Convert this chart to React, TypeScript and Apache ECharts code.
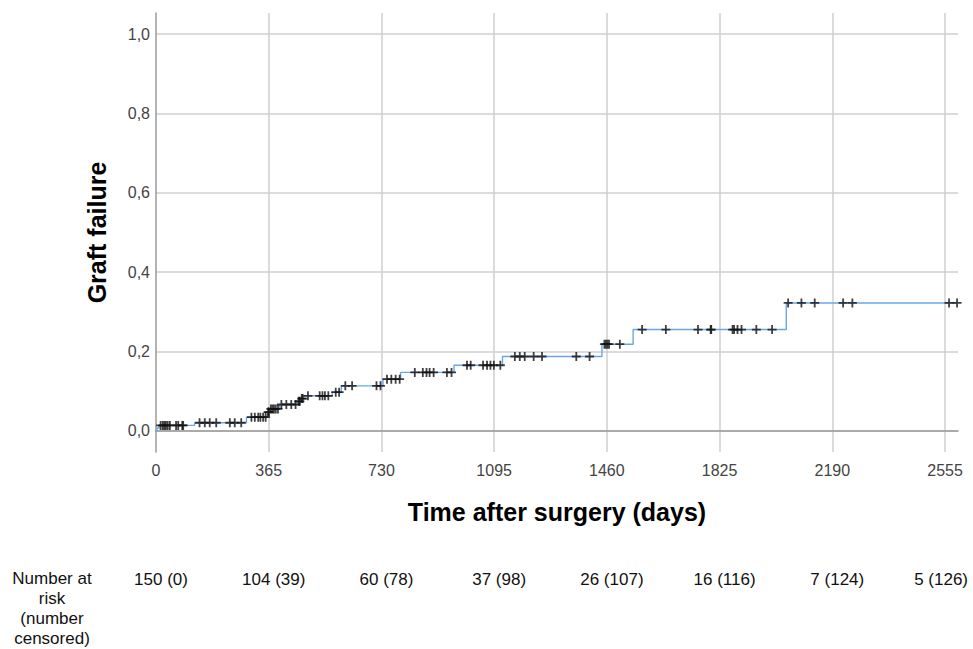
import React, { useEffect, useRef } from "react";
import * as echarts from "echarts";

// Kaplan-Meier steps: day at which failure level starts, and the cumulative failure
const stepDays = [0, 3, 10, 125, 293, 361, 368, 400, 460, 470, 478, 571, 600, 735, 792, 965, 1122, 1444, 1545, 2041, 2594];
const stepFailure = [0, 0.0067, 0.0133, 0.02, 0.034, 0.047, 0.055, 0.066, 0.074, 0.081, 0.088, 0.097, 0.113, 0.13, 0.147, 0.165, 0.187, 0.218, 0.255, 0.322, 0.322];

// Censored observations (days)
const censorDays = [
  15, 22, 27, 32, 38, 45, 65, 72, 85, 88,
  141, 158, 174, 195, 239, 255, 276,
  309, 320, 331, 338, 347, 355,
  363, 366, 372, 377, 382, 388, 395,
  406, 422, 438, 452,
  462, 466, 472, 475,
  492, 530, 539, 547, 558,
  582, 593,
  613, 635, 714, 727,
  748, 762, 776, 789,
  838, 864, 876, 886, 899, 942, 957,
  1007, 1019, 1059, 1072, 1083, 1094, 1115,
  1162, 1178, 1194, 1223, 1250, 1361, 1404,
  1452, 1457, 1462, 1467, 1502,
  1574, 1651, 1755, 1796, 1798, 1867, 1872, 1883, 1896, 1944, 1995,
  2047, 2090, 2133, 2225, 2255, 2568, 2594,
];

const xTickDays = [0, 365, 730, 1095, 1460, 1825, 2190, 2555];
const yTickValues = [0, 0.2, 0.4, 0.6, 0.8, 1.0];
const riskLabels = ["150 (0)", "104 (39)", "60 (78)", "37 (98)", "26 (107)", "16 (116)", "7 (124)", "5 (126)"];
const riskTitle = "Number at\nrisk\n(number\ncensored)";

const xTitle = "Time after surgery (days)";
const yTitle = "Graft failure";

const FONT = '"Liberation Sans", Arial, sans-serif';

function failureAt(d: number): number {
  let v = 0;
  for (let i = 0; i < stepDays.length; i++) {
    if (stepDays[i] <= d) v = stepFailure[i];
  }
  return v;
}

export default function App() {
  const ref = useRef<HTMLDivElement>(null);

  useEffect(() => {
    document.body.style.margin = "0";
    if (!ref.current) return;
    const chart = echarts.init(ref.current, undefined, { renderer: "svg" });

    const isMultiple = (v: number, step: number) =>
      Math.abs(v / step - Math.round(v / step)) < 1e-6;

    chart.setOption({
      animation: false,
      backgroundColor: "#ffffff",
      grid: { left: 156, right: 15, top: 13, bottom: 197, containLabel: false },
      xAxis: {
        type: "value",
        min: 0,
        max: 2597,
        interval: 365,
        name: xTitle,
        nameLocation: "middle",
        nameGap: 47,
        nameTextStyle: { fontFamily: FONT, fontSize: 25, fontWeight: "bold", color: "#000" },
        axisLine: { show: true, lineStyle: { color: "#9a9a9a", width: 1.5 } },
        axisTick: { show: false },
        axisLabel: {
          margin: 10,
          fontSize: 16,
          fontFamily: FONT,
          color: "#444",
          showMaxLabel: false,
          formatter: (v: number) => (isMultiple(v, 365) ? String(v) : ""),
        },
        splitLine: { show: true, showMinLine: false, showMaxLine: false, lineStyle: { color: "#cfcfcf", width: 1.5 } },
      },
      yAxis: {
        type: "value",
        min: -0.0537,
        max: 1.053,
        name: yTitle,
        nameLocation: "middle",
        nameGap: 47,
        nameTextStyle: { fontFamily: FONT, fontSize: 25, fontWeight: "bold", color: "#000" },
        axisLine: { show: true, lineStyle: { color: "#9a9a9a", width: 1.5 } },
        axisTick: { show: false, customValues: yTickValues },
        axisLabel: {
          margin: 6,
          fontSize: 16,
          fontFamily: FONT,
          color: "#444",
          customValues: yTickValues,
          formatter: (v: number) => v.toFixed(1).replace(".", ","),
        },
        splitLine: { show: true, lineStyle: { color: "#cfcfcf", width: 1.5 } },
      },
      series: [
        {
          type: "line",
          step: "end",
          data: stepDays.map((d, i) => [d, stepFailure[i]]),
          showSymbol: false,
          lineStyle: { color: "#6aa6e6", width: 1.4 },
          z: 2,
        },
        {
          type: "scatter",
          data: censorDays.map((d) => [d, failureAt(d)]),
          symbol: "path://M4,0h2v4h4v2h-4v4h-2v-4h-4v-2h4z",
          symbolSize: 9,
          itemStyle: { color: "#111" },
          z: 3,
        },
      ],
    });

    const graphics: any[] = [];
    xTickDays.forEach((d, i) => {
      const px = chart.convertToPixel({ xAxisIndex: 0 }, d) as number;
      const last = i === xTickDays.length - 1;
      graphics.push({
        type: "text",
        x: last ? px + 23 : px + 5,
        y: 579,
        style: {
          text: riskLabels[i],
          fontFamily: FONT,
          fontSize: 17,
          fill: "#111",
          textAlign: last ? "right" : "center",
          textVerticalAlign: "middle",
        },
      });
    });
    graphics.push({
      type: "text",
      x: 52,
      y: 568,
      style: {
        text: riskTitle,
        fontFamily: FONT,
        fontSize: 17,
        lineHeight: 20,
        fill: "#111",
        textAlign: "center",
        textVerticalAlign: "top",
      },
    });
    chart.setOption({ graphic: graphics });

    return () => chart.dispose();
  }, []);

  return <div ref={ref} style={{ width: 973, height: 649 }} />;
}
